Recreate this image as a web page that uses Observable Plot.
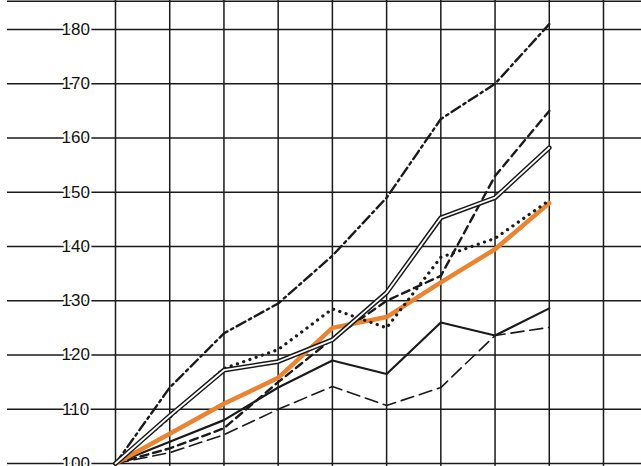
<!DOCTYPE html>
<html>
<head>
<meta charset="utf-8">
<script src="https://cdn.jsdelivr.net/npm/d3@7"></script>
<script src="https://cdn.jsdelivr.net/npm/@observablehq/plot@0.6"></script>
<style>
  html, body { margin: 0; padding: 0; background: #fff; }
  #chart svg { display: block; background: #fff; }
</style>
</head>
<body>
<div id="chart"></div>
<script>
// Period index (9 observations) and grid columns
const steps = [0, 1, 2, 3, 4, 5, 6, 7, 8];
const gridCols = [0, 1, 2, 3, 4, 5, 6, 7, 8, 9];
const yTicks = [100, 110, 120, 130, 140, 150, 160, 170, 180];
const yTickLabels = ["100", "110", "120", "130", "140", "150", "160", "170", "180"];

// Series values (index, start = 100)
const dashDot    = [100, 114, 124, 129.5, 138.3, 149, 163.5, 170, 181];
const dashed     = [100, 102.8, 106.5, 115, 123, 130, 134.6, 153, 165];
const doubleLine = [100, 108.8, 117.2, 118.8, 122.8, 131.5, 145.3, 149, 158.2];
const dotted     = [100, 108.5, 117.5, 121, 128.5, 125, 138, 141.5, 148.5];
const orange     = [100, 105.5, 111, 115.8, 125, 127, 133.4, 139.5, 148];
const solid      = [100, 104, 108, 114, 119, 116.5, 126, 123.6, 128.6];
const longDash   = [100, 102, 105.3, 110, 114.2, 110.7, 114, 123.6, 125.1];

const xDomain = [-1.992, 9.701];
const yDomain = [99.45, 185.35];
const labelX = -0.735;
const ink = "#1a1a1a";

const chart = Plot.plot({
  width: 641,
  height: 466,
  margin: 0,
  marginLeft: 7,
  x: { domain: xDomain, axis: null },
  y: { domain: yDomain, axis: null },
  marks: [
    Plot.ruleY(yTicks, { stroke: ink, strokeWidth: 1.5 }),
    Plot.ruleY([yDomain[1] - 0.15], { stroke: ink, strokeWidth: 1.5 }),
    Plot.ruleX(gridCols, { stroke: ink, strokeWidth: 1.5 }),
    Plot.text(yTicks, {
      x: () => labelX, y: d => d,
      text: (d, i) => yTickLabels[i],
      fontSize: 17, fontFamily: "Liberation Sans, Arial, sans-serif",
      fill: "#111", stroke: "#fff", strokeWidth: 4, paintOrder: "stroke"
    }),
    Plot.lineY(longDash, { x: steps, stroke: ink, strokeWidth: 1.6, strokeDasharray: "13,6" }),
    Plot.lineY(solid, { x: steps, stroke: ink, strokeWidth: 2.2 }),
    Plot.lineY(dashed, { x: steps, stroke: ink, strokeWidth: 2.4, strokeDasharray: "8,5" }),
    Plot.lineY(dashDot, { x: steps, stroke: ink, strokeWidth: 2.4, strokeDasharray: "10,4,2.5,4" }),
    Plot.lineY(orange, { x: steps, stroke: "#eb8430", strokeWidth: 4.5, strokeLinejoin: "round" }),
    Plot.lineY(dotted, { x: steps, stroke: ink, strokeWidth: 3.2, strokeDasharray: "0.1,6.5", strokeLinecap: "round" }),
    Plot.lineY(doubleLine, { x: steps, stroke: ink, strokeWidth: 4.8, strokeLinejoin: "miter" }),
    Plot.lineY(doubleLine, { x: steps, stroke: "#fff", strokeWidth: 1.8, strokeLinejoin: "miter" })
  ]
});
document.getElementById("chart").appendChild(chart);
</script>
</body>
</html>
